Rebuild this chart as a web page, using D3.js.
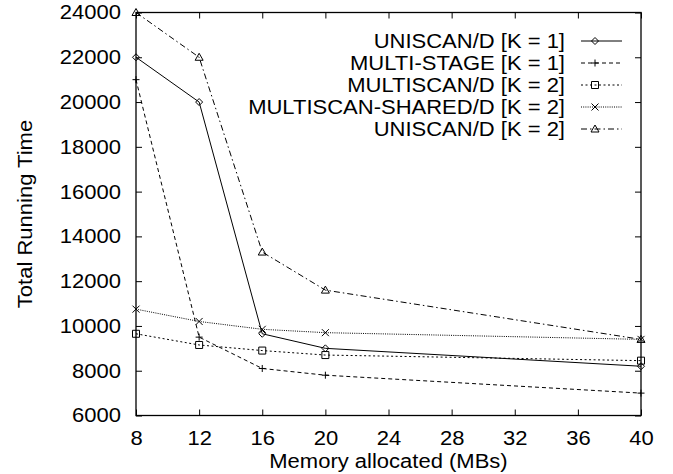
<!DOCTYPE html>
<html>
<head>
<meta charset="utf-8">
<script src="https://cdn.jsdelivr.net/npm/d3@7"></script>
<style>
  body { margin: 0; background: #fff; }
  svg text { font-family: "Liberation Sans", Arial, Helvetica, sans-serif; fill: #000; }
</style>
</head>
<body>
<svg id="chart" width="673" height="474"></svg>
<script>
// memory sizes (MB) on the x axis
const memory = [8, 12, 16, 20, 40];

const uniscanK1 = [22000, 20000, 9650, 9000, 8200];
const multiStageK1 = [21000, 9500, 8100, 7800, 7000];
const multiscanK2 = [9650, 9150, 8900, 8700, 8450];
const multiscanSharedK2 = [10750, 10200, 9850, 9700, 9400];
const uniscanK2 = [24000, 22000, 13300, 11600, 9400];

const xTicks = [8, 12, 16, 20, 24, 28, 32, 36, 40];
const yTicks = [6000, 8000, 10000, 12000, 14000, 16000, 18000, 20000, 22000, 24000];

const series = [
  { name: 'UNISCAN/D [K = 1]', values: uniscanK1, dash: null, marker: 'diamond' },
  { name: 'MULTI-STAGE [K = 1]', values: multiStageK1, dash: '4,3', marker: 'plus' },
  { name: 'MULTISCAN/D [K = 2]', values: multiscanK2, dash: '2,2.5', marker: 'square' },
  { name: 'MULTISCAN-SHARED/D [K = 2]', values: multiscanSharedK2, dash: '1,1.2', marker: 'cross' },
  { name: 'UNISCAN/D [K = 2]', values: uniscanK2, dash: '6,3,1.5,3', marker: 'triangle' },
];

const margin = { top: 12.5, right: 32, bottom: 58.5, left: 136 };
const width = 673, height = 474;
const plotW = width - margin.left - margin.right;
const plotH = height - margin.top - margin.bottom;

const svg = d3.select('#chart');
const g = svg.append('g').attr('transform', `translate(${margin.left},${margin.top})`);

const x = d3.scaleLinear().domain([8, 40]).range([0, plotW]);
const y = d3.scaleLinear().domain([6000, 24000]).range([plotH, 0]);

const tickLen = 6;
const fontSize = 20;
const stretch = 1.1; // the reference font is a bit wider than Liberation Sans

// axes: inward ticks on all four sides
const xBottom = d3.axisBottom(x).tickValues(xTicks).tickFormat(d3.format('d'))
  .tickSize(-tickLen).tickPadding(tickLen + 9).tickSizeOuter(0);
const xTop = d3.axisTop(x).tickValues(xTicks).tickSize(-tickLen).tickFormat('').tickSizeOuter(0);
const yLeft = d3.axisLeft(y).tickValues(yTicks).tickFormat(d3.format('d'))
  .tickSize(-tickLen).tickPadding(tickLen + 9).tickSizeOuter(0);
const yRight = d3.axisRight(y).tickValues(yTicks).tickSize(-tickLen).tickFormat('').tickSizeOuter(0);

const axes = [
  g.append('g').attr('transform', `translate(0,${plotH})`).call(xBottom),
  g.append('g').call(xTop),
  g.append('g').call(yLeft),
  g.append('g').attr('transform', `translate(${plotW},0)`).call(yRight),
];
axes.forEach((a) => {
  a.select('.domain').remove();
  a.selectAll('.tick line').attr('stroke', '#000').attr('stroke-width', 1);
  a.selectAll('.tick text')
    .style('font-family', '"Liberation Sans", Arial, sans-serif')
    .style('font-size', fontSize + 'px')
    .attr('fill', '#000');
});

// border
g.append('rect')
  .attr('width', plotW).attr('height', plotH)
  .attr('fill', 'none').attr('stroke', '#000').attr('stroke-width', 1.3);

// axis titles
svg.append('text')
  .attr('x', margin.left + plotW / 2).attr('y', 468)
  .attr('text-anchor', 'middle')
  .style('font-size', fontSize + 'px')
  .text('Memory allocated (MBs)');

svg.append('text')
  .attr('transform', `translate(32,${margin.top + plotH / 2}) rotate(-90)`)
  .attr('text-anchor', 'middle')
  .style('font-size', fontSize + 'px')
  .text('Total Running Time');

function drawMarker(sel, type, cx, cy) {
  const s = 3.5;
  const p = sel.append('path')
    .attr('fill', 'none').attr('stroke', '#000').attr('stroke-width', 1);
  if (type === 'diamond') {
    p.attr('d', `M${cx},${cy - s}L${cx + s},${cy}L${cx},${cy + s}L${cx - s},${cy}Z`);
  } else if (type === 'plus') {
    p.attr('d', `M${cx - s},${cy}H${cx + s}M${cx},${cy - s}V${cy + s}`);
  } else if (type === 'square') {
    p.attr('d', `M${cx - s},${cy - s}H${cx + s}V${cy + s}H${cx - s}Z`);
  } else if (type === 'cross') {
    p.attr('d', `M${cx - s},${cy - s}L${cx + s},${cy + s}M${cx - s},${cy + s}L${cx + s},${cy - s}`);
  } else if (type === 'triangle') {
    p.attr('d', `M${cx},${cy - s - 0.5}L${cx + s + 0.5},${cy + s - 0.5}L${cx - s - 0.5},${cy + s - 0.5}Z`);
  }
}

const line = d3.line().x((d) => x(d[0])).y((d) => y(d[1]));

series.forEach((s) => {
  const pts = memory.map((m, i) => [m, s.values[i]]);
  g.append('path')
    .datum(pts)
    .attr('d', line)
    .attr('fill', 'none')
    .attr('stroke', '#000')
    .attr('stroke-width', 1)
    .attr('stroke-dasharray', s.dash);
  pts.forEach((d) => drawMarker(g, s.marker, x(d[0]), y(d[1])));
});

// legend
const legend = svg.append('g');
const legX = 565, sampleX0 = 581, sampleX1 = 622, markX = 595, legY0 = 41, legStep = 22;
series.forEach((s, i) => {
  const ly = legY0 + i * legStep;
  legend.append('text')
    .attr('x', legX).attr('y', ly)
    .attr('dy', '0.37em')
    .attr('text-anchor', 'end')
    .style('font-size', fontSize + 'px')
    .text(s.name);
  legend.append('line')
    .attr('x1', sampleX0).attr('x2', sampleX1)
    .attr('y1', ly).attr('y2', ly)
    .attr('stroke', '#000').attr('stroke-width', 1)
    .attr('stroke-dasharray', s.dash);
  drawMarker(legend, s.marker, markX, ly);
});

// widen every text a little to match the reference glyph proportions
svg.selectAll('text').each(function () {
  const len = this.getComputedTextLength();
  if (len > 0) {
    d3.select(this)
      .attr('textLength', len * stretch)
      .attr('lengthAdjust', 'spacingAndGlyphs');
  }
});
</script>
</body>
</html>
